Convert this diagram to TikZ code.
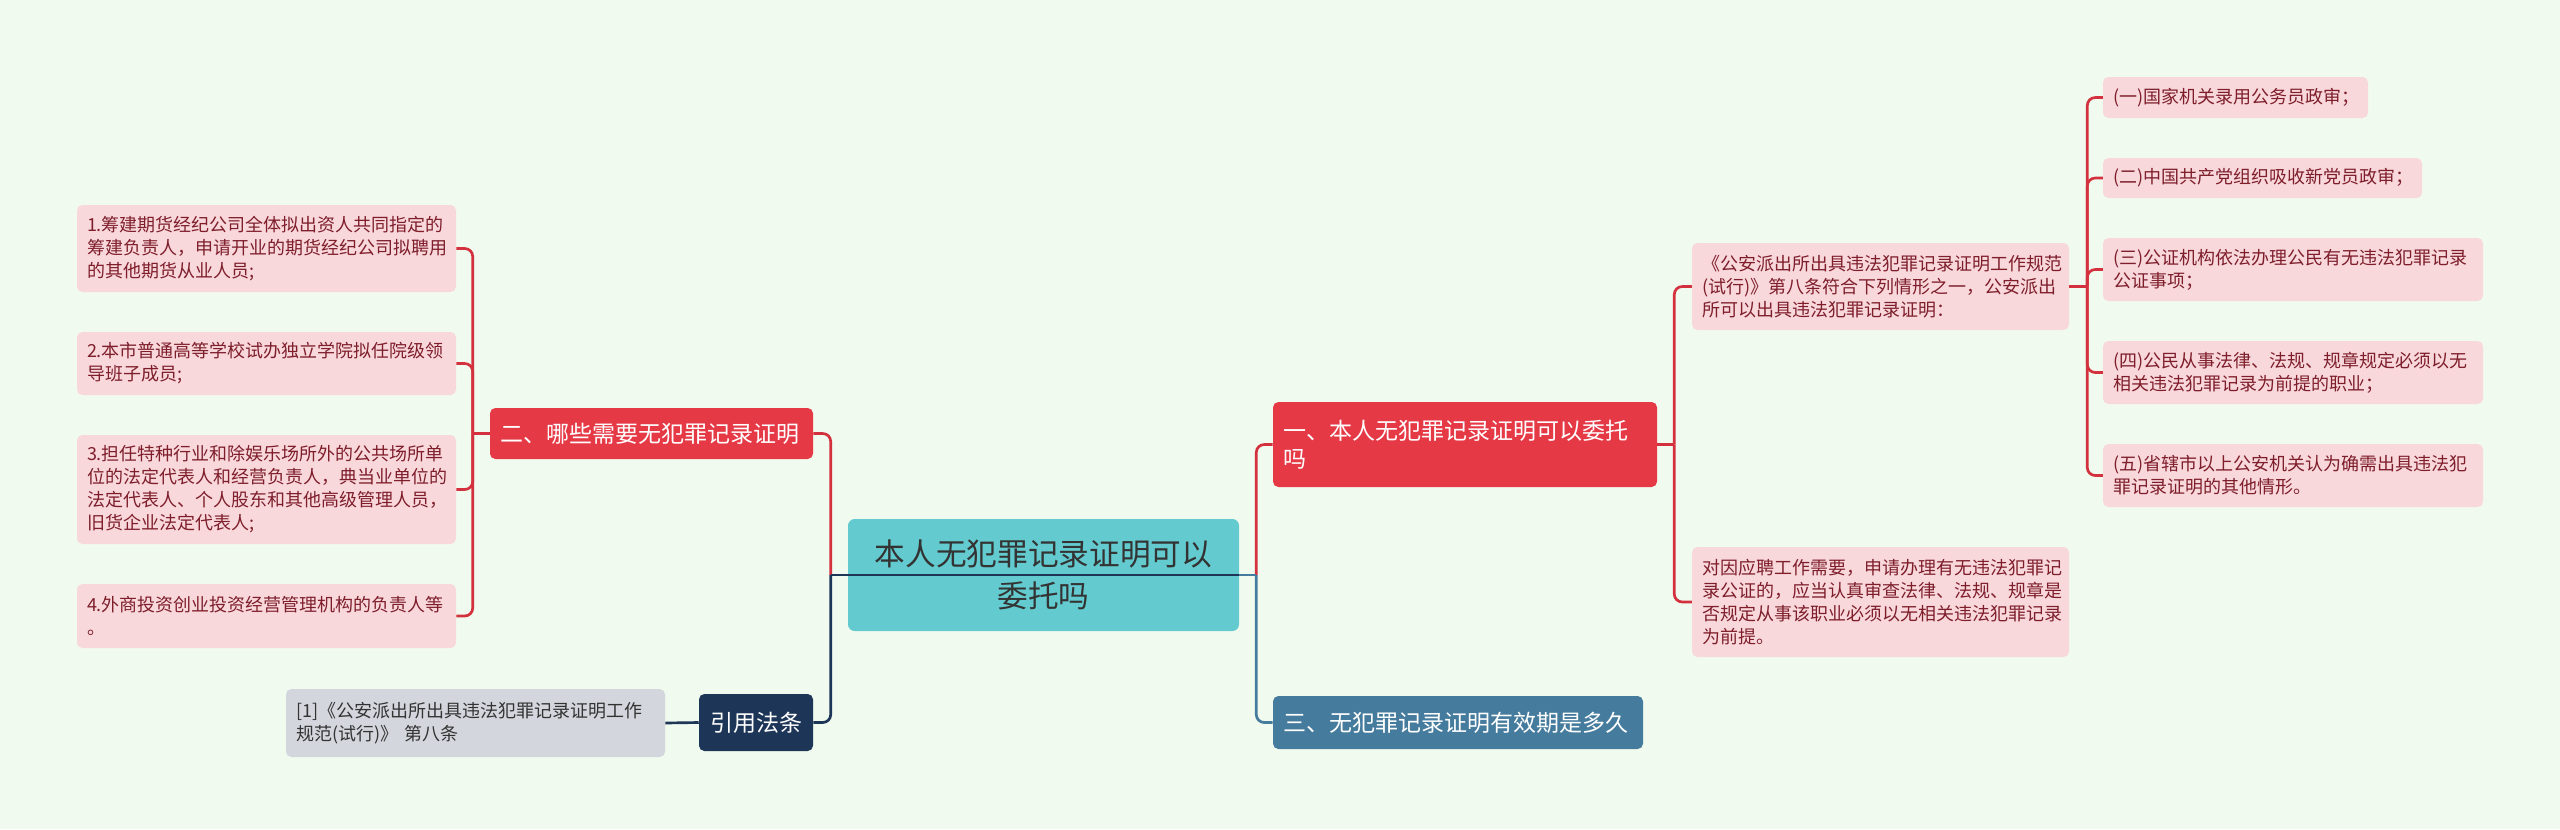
\documentclass[tikz,border=0pt]{standalone}
\usepackage{fontspec}
\setmainfont{Noto Sans CJK SC}
\definecolor{bgc}{HTML}{F1FAEE}
\definecolor{redc}{HTML}{E63946}
\definecolor{redl}{HTML}{D4313F}
\definecolor{leafc}{HTML}{F9D8DC}
\definecolor{leaft}{HTML}{7E1E2B}
\definecolor{navyc}{HTML}{1D3557}
\definecolor{bluec}{HTML}{457B9D}
\definecolor{tealc}{HTML}{63CBCF}
\definecolor{grayc}{HTML}{D3D7DD}
\definecolor{darkt}{HTML}{333333}
\tikzset{
  leafbox/.style={fill=leafc, text=leaft, rounded corners=4pt, align=left,
    font=\fontsize{13.5pt}{17.25pt}\selectfont},
  citebox/.style={fill=grayc, text=darkt, rounded corners=4pt, align=left,
    font=\fontsize{13.5pt}{17.25pt}\selectfont},
  redbox/.style={fill=redc, text=white, rounded corners=4pt, align=left,
    font=\fontsize{17.25pt}{21pt}\selectfont},
  bluebox/.style={fill=bluec, text=white, rounded corners=4pt, align=left,
    font=\fontsize{17.25pt}{21pt}\selectfont},
  navybox/.style={fill=navyc, text=white, rounded corners=4pt, align=center,
    font=\fontsize{17.25pt}{21pt}\selectfont},
  centerbox/.style={fill=tealc, text=darkt, rounded corners=5pt, align=center,
    font=\fontsize{23pt}{31.5pt}\selectfont},
  ln/.style={line width=2pt},
  redln/.style={ln, draw=redl},
  navyln/.style={ln, draw=navyc},
  blueln/.style={ln, draw=bluec},
  rc/.style={rounded corners=6pt}
}
\newcommand\bx[7]{%
  \pgfmathsetmacro\bxw{(#4-#2)*0.75}%
  \pgfmathsetmacro\bxh{(#5-#3)*0.75}%
  \pgfmathsetmacro\bxt{(#4-#2-20)*0.75}%
  \node[#6, minimum width=\bxw pt, minimum height=\bxh pt, text width=\bxt pt,
        inner xsep=7.5pt, inner ysep=0pt] (#1) at ({(#2+#4)/2},{(#3+#5)/2}) {#7};}
\begin{document}
\begin{tikzpicture}[x=0.75pt,y=-0.75pt]
\useasboundingbox (0,0) rectangle (2560,829);
\fill[bgc] (0,0) rectangle (2560,829);

% left leaves
\bx{l1}{77}{205}{456}{292}{leafbox}{1.筹建期货经纪公司全体拟出资人共同指定的\\筹建负责人，申请开业的期货经纪公司拟聘用\\的其他期货从业人员;}
\bx{l2}{77}{332}{456}{395}{leafbox}{2.本市普通高等学校试办独立学院拟任院级领\\导班子成员;}
\bx{l3}{77}{435}{456}{544}{leafbox}{3.担任特种行业和除娱乐场所外的公共场所单\\位的法定代表人和经营负责人，典当业单位的\\法定代表人、个人股东和其他高级管理人员，\\旧货企业法定代表人;}
\bx{l4}{77}{584}{456}{648}{leafbox}{4.外商投资创业投资经营管理机构的负责人等\\。}
\bx{er}{490}{408}{813}{459}{redbox}{二、哪些需要无犯罪记录证明}
\bx{gray}{286}{689}{665}{757}{citebox}{[1]《公安派出所出具违法犯罪记录证明工作\\规范(试行)》 第八条}
\bx{cite}{699}{694}{813}{751}{navybox}{引用法条}

% center
\bx{c}{848}{519}{1239}{631}{centerbox}{本人无犯罪记录证明可以\\委托吗}

% right branches
\bx{e1}{1273}{402}{1657}{487}{redbox}{一、本人无犯罪记录证明可以委托\\吗}
\bx{e3}{1273}{696}{1643}{749}{bluebox}{三、无犯罪记录证明有效期是多久}
\bx{A}{1692}{243}{2069}{330}{leafbox}{《公安派出所出具违法犯罪记录证明工作规范\\(试行)》第八条符合下列情形之一，公安派出\\所可以出具违法犯罪记录证明：}
\bx{B}{1692}{547}{2069}{657}{leafbox}{对因应聘工作需要，申请办理有无违法犯罪记\\录公证的，应当认真审查法律、法规、规章是\\否规定从事该职业必须以无相关违法犯罪记录\\为前提。}
\bx{r1}{2103}{77}{2368}{118}{leafbox}{(一)国家机关录用公务员政审；}
\bx{r2}{2103}{158}{2422}{198}{leafbox}{(二)中国共产党组织吸收新党员政审；}
\bx{r3}{2103}{238}{2483}{301}{leafbox}{(三)公证机构依法办理公民有无违法犯罪记录\\公证事项；}
\bx{r4}{2103}{341}{2483}{404}{leafbox}{(四)公民从事法律、法规、规章规定必须以无\\相关违法犯罪记录为前提的职业；}
\bx{r5}{2103}{444}{2483}{507}{leafbox}{(五)省辖市以上公安机关认为确需出具违法犯\\罪记录证明的其他情形。}

% connectors
\path (c.west) ++(-17,0) coordinate (jcl);
\path (c.east) ++(17,0) coordinate (jcr);
\draw[redln, rc] (jcl) |- (er.east);
\draw[navyln, rc] (jcl) |- (cite.east);
\draw[redln, rc] (jcr) |- (e1.west);
\draw[blueln, rc] (jcr) |- (e3.west);
\draw[navyln] (jcl) -- (c.east);
\draw[blueln] (c.east) -- (jcr);
\draw[navyln] (cite.west) -- (gray.east);

\draw[redln] (er.west) -- ++(-17,0) coordinate (jer);
\foreach \n in {l1,l2,l3,l4} \draw[redln, rc] (jer) |- (\n.east);

\draw[redln] (e1.east) -- ++(17,0) coordinate (je1);
\foreach \n in {A,B} \draw[redln, rc] (je1) |- (\n.west);

\draw[redln] (A.east) -- ++(18,0) coordinate (jA);
\foreach \n in {r1,r2,r3,r4,r5} \draw[redln, rc] (jA) |- (\n.west);
\end{tikzpicture}
\end{document}
